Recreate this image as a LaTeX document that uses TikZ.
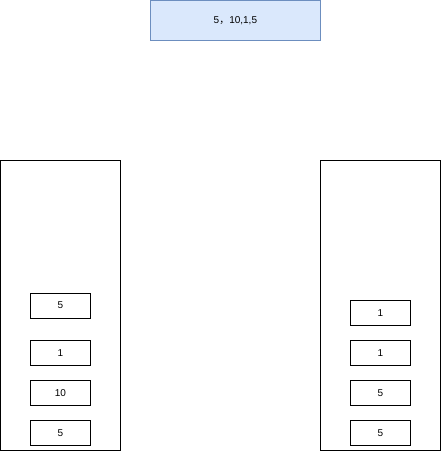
\documentclass[tikz,border=0pt]{standalone}
\usepackage{fontspec}
\setmainfont{Liberation Sans}
\newfontfamily\cjk{Noto Sans CJK SC}
\definecolor{topfill}{HTML}{DAE8FC}
\definecolor{topdraw}{HTML}{6C8EBF}
\begin{document}
\begin{tikzpicture}[x=1pt,y=-1pt,
  every node/.style={font=\fontsize{10}{12}\selectfont},
  stackbox/.style={draw=black,line width=0.8pt,minimum width=120pt,minimum height=290pt,inner sep=0pt,anchor=north west},
  itembox/.style={draw=black,line width=0.8pt,minimum width=60pt,minimum height=25pt,inner sep=0pt,anchor=north west},
  topbox/.style={draw=topdraw,fill=topfill,line width=0.8pt,minimum width=170pt,minimum height=40pt,inner sep=0pt,anchor=north west}]
\useasboundingbox (0,0) rectangle (441,451);
\node[topbox] (top) at (150,0) {5{\cjk ，}10,1,5};
\node[stackbox] (left) at (0.4,160) {};
\node[stackbox] (right) at (320,160) {};
\node[itembox] (l1) at (30,292.5) {5};
\node[itembox] (l2) at (30,340) {1};
\node[itembox] (l3) at (30,380) {10};
\node[itembox] (l4) at (30,420) {5};
\node[itembox] (r1) at (350,300) {1};
\node[itembox] (r2) at (350,340) {1};
\node[itembox] (r3) at (350,380) {5};
\node[itembox] (r4) at (350,420) {5};
\end{tikzpicture}
\end{document}
